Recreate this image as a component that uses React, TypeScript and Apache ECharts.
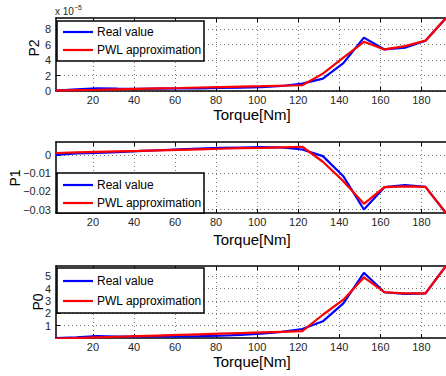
import React, { useEffect, useRef } from "react";
import * as echarts from "echarts";

const torque = [2, 12, 22, 32, 42, 52, 62, 72, 82, 92, 102, 112, 122, 132, 142, 152, 162, 172, 182, 192];
const xTicks = [20, 40, 60, 80, 100, 120, 140, 160, 180];

// P2 in units of 1e-5
const p2Real = [0.05, 0.2, 0.35, 0.3, 0.28, 0.3, 0.32, 0.35, 0.4, 0.42, 0.5, 0.65, 0.96, 1.6, 3.6, 6.9, 5.37, 5.6, 6.5, 9.43];
const p2Pwl = [0.05, 0.11, 0.16, 0.22, 0.28, 0.34, 0.39, 0.45, 0.51, 0.57, 0.62, 0.68, 0.74, 2.25, 4.3, 6.35, 5.37, 5.8, 6.5, 9.43];
const p2Ticks = [0, 2, 4, 6, 8];

const p1Real = [0.0, 0.0008, 0.001, 0.0015, 0.002, 0.0025, 0.003, 0.0034, 0.0038, 0.004, 0.0042, 0.004, 0.0029, -0.0007, -0.0117, -0.0299, -0.0177, -0.0166, -0.0175, -0.0318];
const p1Pwl = [0.001, 0.0013, 0.0016, 0.0019, 0.0021, 0.0024, 0.0027, 0.003, 0.0033, 0.0036, 0.0038, 0.0041, 0.0044, -0.0038, -0.0144, -0.0268, -0.0177, -0.0173, -0.0175, -0.0318];
const p1Ticks = [-0.03, -0.02, -0.01, 0];

const p0Real = [0.0, 0.05, 0.15, 0.12, 0.12, 0.12, 0.13, 0.15, 0.18, 0.25, 0.35, 0.5, 0.73, 1.35, 2.8, 5.27, 3.7, 3.56, 3.6, 5.82];
const p0Pwl = [-0.05, 0.0, 0.05, 0.1, 0.15, 0.2, 0.25, 0.3, 0.35, 0.4, 0.45, 0.5, 0.55, 1.88, 3.1, 4.9, 3.7, 3.6, 3.6, 5.82];
const p0Ticks = [1, 2, 3, 4, 5];

const seriesNames = ["Real value", "PWL approximation"];
const panelNames = ["P2", "P1", "P0"];
const xName = "Torque[Nm]";

const FONT = "Liberation Sans, Arial, Helvetica, sans-serif";

export default function App() {
  const ref = useRef<HTMLDivElement>(null);
  useEffect(() => {
    document.body.style.margin = "0";
    if (!ref.current) return;
    const chart = echarts.init(ref.current, null, { renderer: "svg" });

    const panels = [
      { top: 18, height: 73, min: 0, max: 9.43, ticks: p2Ticks, real: p2Real, pwl: p2Pwl, box: { x: 57, y: 21, w: 147, h: 40 }, lineY: [32, 50], nameX: 34, nameY: 48, torqueY: 114 },
      { top: 142, height: 71, min: -0.0318, max: 0.007, ticks: p1Ticks, real: p1Real, pwl: p1Pwl, box: { x: 57, y: 173, w: 147, h: 40 }, lineY: [185, 203], nameX: 15, nameY: 178, torqueY: 239 },
      { top: 266, height: 72, min: 0, max: 5.82, ticks: p0Ticks, real: p0Real, pwl: p0Pwl, box: { x: 57, y: 268, w: 147, h: 45 }, lineY: [281, 301], nameX: 38, nameY: 302, torqueY: 361 },
    ];

    const grid: any[] = [];
    const xAxis: any[] = [];
    const yAxis: any[] = [];
    const series: any[] = [];
    const graphic: any[] = [];

    const fmt = (v: number) => {
      const s = String(Math.round(v * 1000) / 1000);
      return s.replace("-", "\u2212");
    };

    panels.forEach((p, i) => {
      grid.push({ left: 56, width: 392, top: p.top, height: p.height, show: false });
      xAxis.push({
        type: "value", gridIndex: i, min: 2, max: 192, position: "bottom",
        axisLine: { show: true, onZero: false, lineStyle: { color: "#000", width: 1.5 } },
        axisTick: { show: true, inside: true, length: 4, customValues: xTicks, lineStyle: { color: "#000" } },
        axisLabel: { show: true, customValues: xTicks, color: "#262626", fontSize: 11, fontFamily: FONT, margin: 3 },
        splitLine: { show: true, lineStyle: { color: "#777", type: [1, 3], width: 1 } },
      });
      xAxis.push({
        type: "value", gridIndex: i, min: 2, max: 192, position: "top",
        axisLine: { show: true, onZero: false, lineStyle: { color: "#000", width: 1.5 } },
        axisTick: { show: true, inside: true, length: 4, customValues: xTicks, lineStyle: { color: "#000" } },
        axisLabel: { show: false },
        splitLine: { show: false },
      });
      yAxis.push({
        type: "value", gridIndex: i, min: p.min, max: p.max, position: "left",
        axisLine: { show: true, onZero: false, lineStyle: { color: "#000", width: 1.5 } },
        axisTick: { show: true, inside: true, length: 4, customValues: p.ticks, lineStyle: { color: "#000" } },
        axisLabel: { show: true, customValues: p.ticks, color: "#262626", fontSize: 11, fontFamily: FONT, margin: 5, formatter: (v: number) => fmt(v) },
        splitLine: { show: true, lineStyle: { color: "#777", type: [1, 3], width: 1 } },
      });
      series.push({
        type: "line", name: seriesNames[0], xAxisIndex: i * 2, yAxisIndex: i,
        data: torque.map((t, k) => [t, p.real[k]]), showSymbol: false, symbol: "none",
        lineStyle: { color: "#0000ff", width: 2.2 }, clip: true,
      });
      series.push({
        type: "line", name: seriesNames[1], xAxisIndex: i * 2, yAxisIndex: i,
        data: torque.map((t, k) => [t, p.pwl[k]]), showSymbol: false, symbol: "none",
        lineStyle: { color: "#ff0000", width: 2.2 }, clip: true,
      });

      // legend box
      graphic.push({
        type: "rect", z: 100, shape: { x: p.box.x, y: p.box.y, width: p.box.w, height: p.box.h },
        style: { fill: "#fff", stroke: "#000", lineWidth: 1.5 },
      });
      graphic.push({ type: "line", z: 101, shape: { x1: 63, y1: p.lineY[0], x2: 93, y2: p.lineY[0] }, style: { stroke: "#0000ff", lineWidth: 2.2 } });
      graphic.push({ type: "line", z: 101, shape: { x1: 63, y1: p.lineY[1], x2: 93, y2: p.lineY[1] }, style: { stroke: "#ff0000", lineWidth: 2.2 } });
      graphic.push({ type: "text", z: 101, x: 97, y: p.lineY[0], style: { text: seriesNames[0], fill: "#000", font: `12px ${FONT}`, verticalAlign: "middle" } });
      graphic.push({ type: "text", z: 101, x: 97, y: p.lineY[1], style: { text: seriesNames[1], fill: "#000", font: `12px ${FONT}`, verticalAlign: "middle" } });

      // y axis name
      graphic.push({
        type: "text", z: 101, x: p.nameX, y: p.nameY, rotation: Math.PI / 2,
        style: { text: panelNames[i], fill: "#000", font: `14px ${FONT}`, align: "center", verticalAlign: "middle" },
      });
      // x axis name
      graphic.push({
        type: "text", z: 101, x: 252, y: p.torqueY,
        style: { text: xName, fill: "#000", font: `15px ${FONT}`, align: "center", verticalAlign: "middle" },
      });
    });

    graphic.push({
      type: "text", z: 101, x: 55, y: 11,
      style: {
        text: "x 10{s|\u22125}", fill: "#262626", font: `10px ${FONT}`, verticalAlign: "middle",
        rich: { s: { fontSize: 7, fontFamily: FONT, fill: "#262626", verticalAlign: "bottom", padding: [0, 0, 8, 0] } },
      },
    });

    chart.setOption({
      animation: false,
      backgroundColor: "#fff",
      grid, xAxis, yAxis, series, graphic,
    });
    return () => chart.dispose();
  }, []);
  return <div ref={ref} style={{ width: 446, height: 376 }} />;
}
